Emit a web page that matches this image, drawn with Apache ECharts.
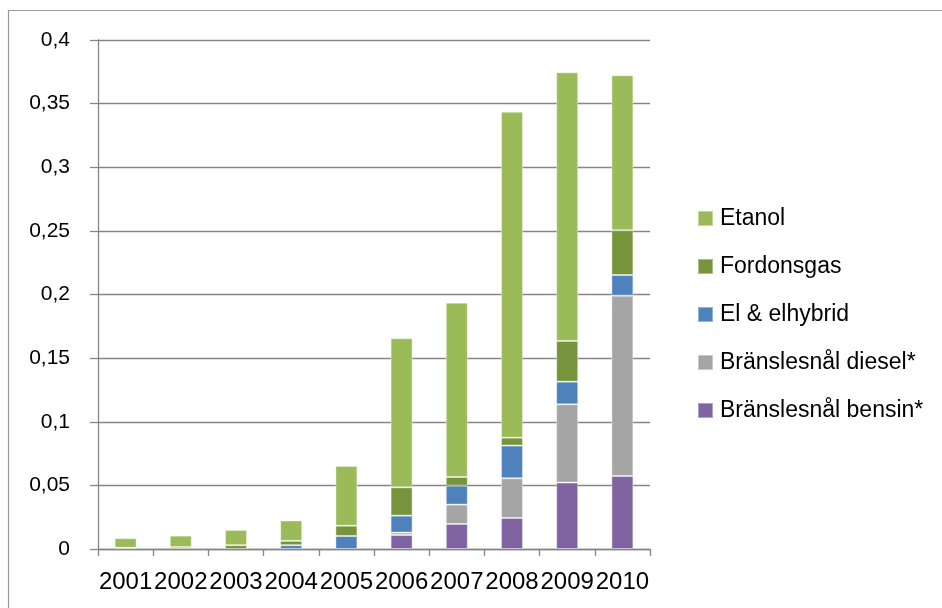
<!DOCTYPE html>
<html>
<head>
<meta charset="utf-8">
<script src="https://cdn.jsdelivr.net/npm/echarts@6/dist/echarts.min.js"></script>
<style>
html,body{margin:0;padding:0;background:#fff;}
#c{width:942px;height:608px;}
</style>
</head>
<body>
<div id="c"></div>
<script>
const years = ['2001','2002','2003','2004','2005','2006','2007','2008','2009','2010'];
const bensin     = [0, 0, 0, 0, 0, 0.011, 0.0197, 0.0244, 0.0522, 0.0574];
const diesel     = [0, 0, 0, 0, 0, 0.0019, 0.0152, 0.0312, 0.0615, 0.1417];
const elhybrid   = [0, 0, 0, 0.003, 0.0102, 0.0133, 0.0149, 0.0257, 0.0178, 0.0162];
const fordonsgas = [0.001, 0.0015, 0.003, 0.0034, 0.0081, 0.0223, 0.0068, 0.0062, 0.032, 0.0352];
const etanol     = [0.0075, 0.009, 0.012, 0.016, 0.047, 0.1171, 0.137, 0.2562, 0.2111, 0.1218];
const yTicks = { min: 0, max: 0.4, interval: 0.05 };

const names = ['Bränslesnål bensin*','Bränslesnål diesel*','El & elhybrid','Fordonsgas','Etanol'];
const colors = ['#8064A2','#A5A5A5','#4F81BD','#77933C','#9BBB59'];
const datasets = [bensin, diesel, elhybrid, fordonsgas, etanol];

const chart = echarts.init(document.getElementById('c'));
const font = '"Liberation Sans", Arial, sans-serif';
chart.setOption({
  animation: false,
  textStyle: { fontFamily: font },
  graphic: [{
    type: 'rect', silent: true,
    shape: { x: 8.5, y: 10.5, width: 1000, height: 1000 },
    style: { fill: 'none', stroke: '#9a9a9a', lineWidth: 1.2 }
  }],
  grid: { left: 98, right: 292, top: 40, bottom: 59, containLabel: false },
  legend: {
    orient: 'vertical', left: 692, top: 202,
    itemWidth: 15, itemHeight: 15, itemGap: 25,
    icon: 'rect',
    data: ['Etanol','Fordonsgas','El & elhybrid','Bränslesnål diesel*','Bränslesnål bensin*'],
    textStyle: { fontSize: 23, color: '#000', fontFamily: font, padding: [0,0,0,2] }
  },
  xAxis: {
    type: 'category', data: years,
    axisLine: { lineStyle: { color: '#868686', width: 1.3 } },
    axisTick: { show: true, length: 7, lineStyle: { color: '#868686', width: 1.3 } },
    axisLabel: { color: '#000', fontSize: 24, margin: 21, interval: 0, fontFamily: font }
  },
  yAxis: {
    type: 'value', min: yTicks.min, max: yTicks.max, interval: yTicks.interval,
    axisLine: { show: true, lineStyle: { color: '#868686', width: 1.3 } },
    axisTick: { show: true, length: 8, lineStyle: { color: '#868686', width: 1.3 } },
    splitLine: { lineStyle: { color: '#868686', width: 1.3 } },
    axisLabel: {
      color: '#000', fontSize: 21, margin: 28, fontFamily: font,
      formatter: v => v === 0 ? '0' : String(+v.toFixed(2)).replace('.', ',')
    }
  },
  series: datasets.map((d, i) => ({
    name: names[i], type: 'bar', stack: 'total',
    data: d.map(v => (v === 0 ? '-' : v)),
    barWidth: 22,
    itemStyle: { color: colors[i], borderColor: 'rgba(255,255,255,0.4)', borderWidth: 1 }
  }))
});
</script>
</body>
</html>
